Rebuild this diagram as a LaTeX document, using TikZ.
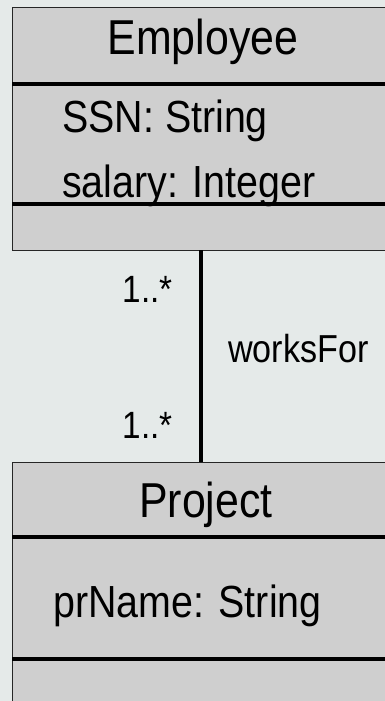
\documentclass[tikz,border=0pt]{standalone}
\usepackage{fontspec}
\setmainfont[FakeStretch=0.875]{Liberation Sans}
\usepackage{xcolor}
\usepackage{tikz}
\definecolor{bgcol}{RGB}{229,234,233}
\definecolor{boxcol}{RGB}{207,207,207}

\begin{document}
\begin{tikzpicture}
  \tikzset{x={(1pt, 0pt)}, y={(0pt, -1pt)}}
  \tikzset{classbox/.style={draw=black!85, line width=1pt, fill=boxcol},
           sepline/.style={line width=4pt},
           assoc/.style={line width=4pt},
           clname/.style={anchor=base, inner sep=0pt, font=\fontsize{49}{49}\selectfont},
           attr/.style={anchor=base west, inner sep=0pt, font=\fontsize{45}{45}\selectfont},
           mult/.style={anchor=base east, inner sep=0pt, font=\fontsize{38}{38}\selectfont},
           rolename/.style={anchor=base west, inner sep=0pt, font=\fontsize{39}{39}\selectfont}}
  \fill[bgcol] (0, 0) rectangle (385, 701);
  \useasboundingbox (0, 0) rectangle (385, 701);
  \clip (0, 0) rectangle (385, 701);
  % Employee
  \draw[classbox] (12, 8) rectangle (400, 250);
  \draw[sepline] (12, 84) -- (400, 84);
  \draw[sepline] (12, 204) -- (400, 204);
  \node[clname] (empname) at (203, 55) {Employee};
  \node[attr] (empssn) at (62, 132) {SSN: String};
  \node[attr] (empsalary) at (62, 197) {salary: Integer};
  % Project
  \draw[classbox] (12, 462) rectangle (400, 720);
  \draw[sepline] (12, 537) -- (400, 537);
  \draw[sepline] (12, 659) -- (400, 659);
  \node[clname] (projname) at (206, 517) {Project};
  \node[attr] (projprname) at (53, 617) {prName: String};
  % association
  \coordinate (empbot) at (201, 250);
  \coordinate (projtop) at (201, 462);
  \draw[assoc] (empbot) -- (projtop);
  \node[mult] (multemp) at (173, 302) {1..*};
  \node[mult] (multproj) at (173, 438) {1..*};
  \node[rolename] (worksfor) at (228, 362) {worksFor};
\end{tikzpicture}
\end{document}
